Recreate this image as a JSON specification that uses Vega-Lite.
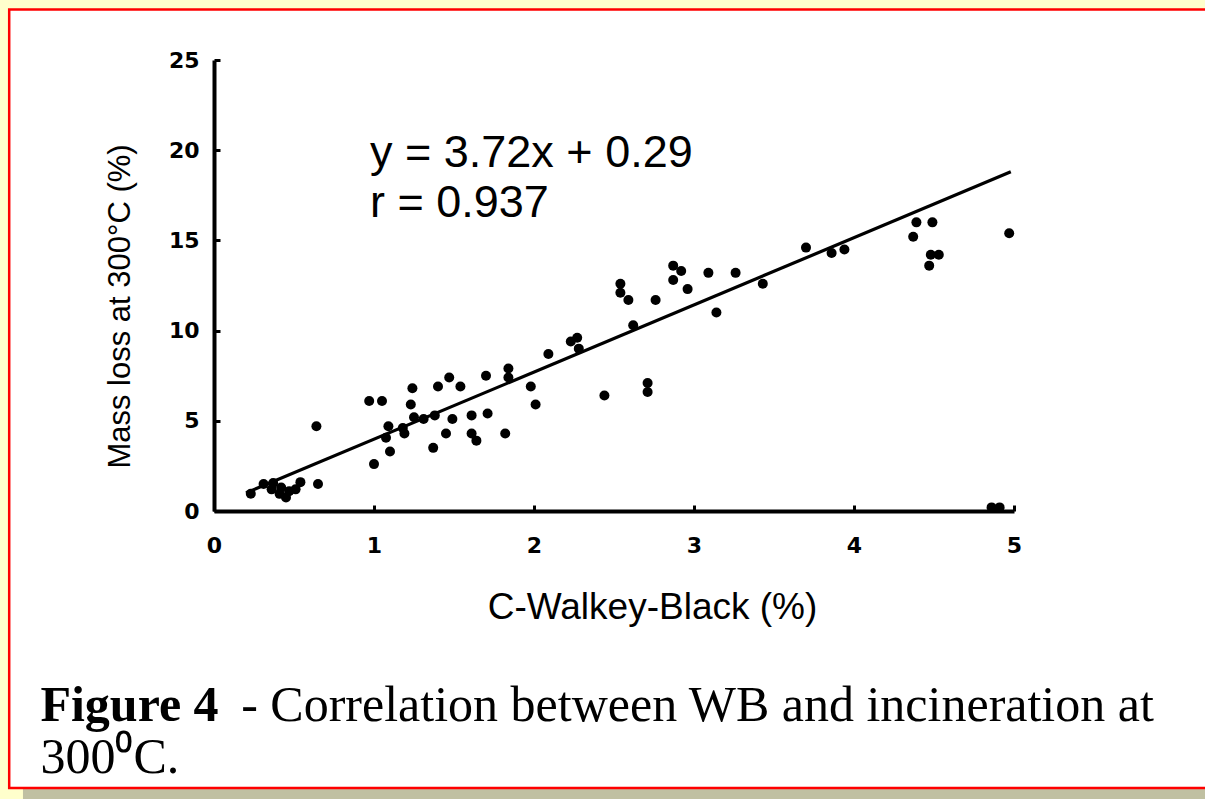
{
  "$schema": "https://vega.github.io/schema/vega-lite/v6.json",
  "autosize": {"type": "none"},
  "width": 800,
  "height": 451,
  "padding": {"left": 214, "top": 60, "right": 191, "bottom": 288},
  "background": "#FFFFCC",
  "config": {"view": {"stroke": null}, "axis": {"zindex": 2}},
  "data": {"values": [{}]},
  "datasets": {
    "points": [
      {"wb": 0.23, "loss": 0.96}, {"wb": 0.31, "loss": 1.5}, {"wb": 0.37, "loss": 1.55}, {"wb": 0.41, "loss": 0.95},
      {"wb": 0.42, "loss": 1.3}, {"wb": 0.47, "loss": 1.1}, {"wb": 0.51, "loss": 1.2}, {"wb": 0.54, "loss": 1.6},
      {"wb": 0.45, "loss": 0.75}, {"wb": 0.36, "loss": 1.2}, {"wb": 0.65, "loss": 1.5}, {"wb": 0.64, "loss": 4.7},
      {"wb": 1.0, "loss": 2.6}, {"wb": 0.97, "loss": 6.1}, {"wb": 1.05, "loss": 6.1}, {"wb": 1.1, "loss": 3.3},
      {"wb": 1.075, "loss": 4.06}, {"wb": 1.09, "loss": 4.7}, {"wb": 1.19, "loss": 4.3}, {"wb": 1.18, "loss": 4.6},
      {"wb": 1.23, "loss": 5.9}, {"wb": 1.24, "loss": 6.8}, {"wb": 1.25, "loss": 5.2}, {"wb": 1.31, "loss": 5.1},
      {"wb": 1.38, "loss": 5.3}, {"wb": 1.37, "loss": 3.5}, {"wb": 1.45, "loss": 4.3}, {"wb": 1.49, "loss": 5.1},
      {"wb": 1.4, "loss": 6.9}, {"wb": 1.47, "loss": 7.4}, {"wb": 1.54, "loss": 6.9}, {"wb": 1.61, "loss": 5.3},
      {"wb": 1.61, "loss": 4.3}, {"wb": 1.64, "loss": 3.9}, {"wb": 1.71, "loss": 5.4}, {"wb": 1.7, "loss": 7.5},
      {"wb": 1.84, "loss": 7.9}, {"wb": 1.84, "loss": 7.4}, {"wb": 1.82, "loss": 4.3}, {"wb": 1.98, "loss": 6.9},
      {"wb": 2.01, "loss": 5.9}, {"wb": 2.09, "loss": 8.7}, {"wb": 2.23, "loss": 9.4}, {"wb": 2.27, "loss": 9.6},
      {"wb": 2.28, "loss": 9.0}, {"wb": 2.44, "loss": 6.4}, {"wb": 2.71, "loss": 7.1}, {"wb": 2.71, "loss": 6.6},
      {"wb": 2.62, "loss": 10.3}, {"wb": 2.54, "loss": 12.6}, {"wb": 2.54, "loss": 12.1}, {"wb": 2.59, "loss": 11.7},
      {"wb": 2.76, "loss": 11.7}, {"wb": 2.87, "loss": 13.6}, {"wb": 2.92, "loss": 13.3}, {"wb": 2.87, "loss": 12.8},
      {"wb": 2.96, "loss": 12.3}, {"wb": 3.09, "loss": 13.2}, {"wb": 3.14, "loss": 11.0}, {"wb": 3.26, "loss": 13.2},
      {"wb": 3.43, "loss": 12.6}, {"wb": 3.7, "loss": 14.6}, {"wb": 3.86, "loss": 14.3}, {"wb": 3.94, "loss": 14.5},
      {"wb": 4.39, "loss": 16.0}, {"wb": 4.49, "loss": 16.0}, {"wb": 4.37, "loss": 15.2}, {"wb": 4.48, "loss": 14.2},
      {"wb": 4.53, "loss": 14.2}, {"wb": 4.47, "loss": 13.6}, {"wb": 4.97, "loss": 15.4}, {"wb": 4.86, "loss": 0.2},
      {"wb": 4.91, "loss": 0.2}
    ],
    "fit": [{"wb": 0.2, "loss": 1.0}, {"wb": 4.98, "loss": 18.8}]
  },
  "layer": [
    {
      "mark": {"type": "rect", "fill": "#C0C0A2", "stroke": null},
      "encoding": {
        "x": {"datum": -1.194, "type": "quantitative"},
        "x2": {"datum": 6.3},
        "y": {"datum": -15.24, "type": "quantitative"},
        "y2": {"datum": -16.6}
      }
    },
    {
      "mark": {"type": "rect", "fill": "white", "stroke": "#FF0000", "strokeWidth": 2.5},
      "encoding": {
        "x": {"datum": -1.28, "type": "quantitative"},
        "x2": {"datum": 6.4},
        "y": {"datum": 27.8, "type": "quantitative"},
        "y2": {"datum": -15.35}
      }
    },
    {
      "data": {"name": "fit"},
      "mark": {"type": "line", "color": "black", "strokeWidth": 3.2},
      "encoding": {
        "x": {"field": "wb", "type": "quantitative"},
        "y": {"field": "loss", "type": "quantitative"}
      }
    },
    {
      "data": {"name": "points"},
      "mark": {"type": "point", "shape": "circle", "filled": true, "color": "black", "opacity": 1, "size": 100},
      "encoding": {
        "x": {
          "field": "wb", "type": "quantitative",
          "scale": {"domain": [0, 5], "nice": false, "zero": false},
          "axis": {
            "title": "C-Walkey-Black (%)", "values": [0, 1, 2, 3, 4, 5], "format": "d", "grid": false, "zindex": 2,
            "domainColor": "black", "domainWidth": 4, "tickColor": "black", "tickWidth": 3, "tickSize": -6,
            "labelFont": "DejaVu Sans", "labelFontWeight": "bold", "labelFontSize": 22, "labelColor": "black",
            "labelPadding": 30, "labelFlush": false,
            "titleFont": "Liberation Sans", "titleFontSize": 37, "titleFontWeight": "normal", "titleColor": "black",
            "titleX": 438, "titleY": 96, "titleBaseline": "middle"
          }
        },
        "y": {
          "field": "loss", "type": "quantitative",
          "scale": {"domain": [0, 25], "nice": false, "zero": false},
          "axis": {
            "title": "Mass loss at 300°C (%)", "values": [0, 5, 10, 15, 20, 25], "format": "d", "grid": false, "zindex": 2,
            "domainColor": "black", "domainWidth": 4, "tickColor": "black", "tickWidth": 3, "tickSize": -6,
            "labelFont": "DejaVu Sans", "labelFontWeight": "bold", "labelFontSize": 22, "labelColor": "black",
            "labelPadding": 21, "labelFlush": false,
            "titleFont": "Liberation Sans", "titleFontSize": 31, "titleFontWeight": "normal", "titleColor": "black",
            "titleX": -94, "titleY": 246, "titleAngle": -90, "titleBaseline": "middle", "titleAlign": "center"
          }
        }
      }
    },
    {
      "mark": {"type": "text", "font": "Liberation Sans", "fontSize": 45, "align": "left", "baseline": "alphabetic", "color": "black", "text": "y = 3.72x + 0.29"},
      "encoding": {
        "x": {"datum": 0.975, "type": "quantitative"},
        "y": {"datum": 19.07, "type": "quantitative"}
      }
    },
    {
      "mark": {"type": "text", "font": "Liberation Sans", "fontSize": 45, "align": "left", "baseline": "alphabetic", "color": "black", "text": "r = 0.937"},
      "encoding": {
        "x": {"datum": 0.975, "type": "quantitative"},
        "y": {"datum": 16.3, "type": "quantitative"}
      }
    },
    {
      "mark": {"type": "text", "font": "Liberation Serif", "fontSize": 50, "fontWeight": "bold", "align": "left", "baseline": "alphabetic", "color": "black", "text": "Figure 4"},
      "encoding": {
        "x": {"datum": -1.085, "type": "quantitative"},
        "y": {"datum": -11.64, "type": "quantitative"}
      }
    },
    {
      "mark": {"type": "text", "font": "Liberation Serif", "fontSize": 50, "align": "left", "baseline": "alphabetic", "color": "black", "text": "- Correlation between WB and incineration at"},
      "encoding": {
        "x": {"datum": 0.17, "type": "quantitative"},
        "y": {"datum": -11.64, "type": "quantitative"}
      }
    },
    {
      "mark": {"type": "text", "font": "Liberation Serif", "fontSize": 50, "align": "left", "baseline": "alphabetic", "color": "black", "text": "300⁰C."},
      "encoding": {
        "x": {"datum": -1.085, "type": "quantitative"},
        "y": {"datum": -14.52, "type": "quantitative"}
      }
    }
  ]
}
